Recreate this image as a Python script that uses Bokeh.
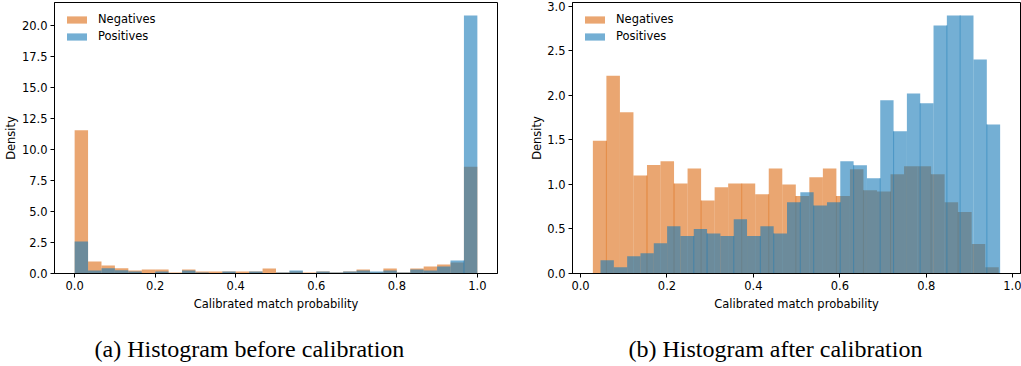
import numpy as np
from bokeh.plotting import figure
from bokeh.models import (ColumnDataSource, FixedTicker, PrintfTickFormatter,
                          Range1d, Legend, LegendItem, Title)
from bokeh.core.properties import value
from bokeh.layouts import row, column
from bokeh.embed import file_html
from bokeh.resources import INLINE

try:
    from bokeh.models import GlobalInlineStyleSheet
except Exception:
    GlobalInlineStyleSheet = None

# ---------------- data ----------------
# (a) before calibration: 30 equal bins on [0, 1]
before_range = (0.0, 1.0)
before_negatives = [11.55, 0.96, 0.64, 0.42, 0.24, 0.32, 0.32, 0.08, 0.32, 0.16,
                    0.16, 0.16, 0.16, 0.16, 0.40, 0.08, 0.16, 0.08, 0.16, 0.08,
                    0.16, 0.32, 0.08, 0.40, 0.08, 0.40, 0.56, 0.72, 0.88, 8.60]
before_positives = [2.57, 0.24, 0.42, 0.26, 0.16, 0.02, 0.16, 0.02, 0.24, 0.08,
                    0.02, 0.16, 0.02, 0.16, 0.02, 0.08, 0.24, 0.02, 0.16, 0.08,
                    0.16, 0.24, 0.16, 0.24, 0.08, 0.32, 0.24, 0.56, 1.04, 20.80]

# (b) after calibration: 30 equal bins over each class's own range
after_neg_range = (0.0285, 0.9677)
after_pos_range = (0.0462, 0.9709)
after_negatives = [1.49, 2.22, 1.81, 1.10, 1.22, 1.26, 1.01, 1.18, 0.82, 0.97,
                   1.01, 1.01, 0.89, 1.18, 1.00, 0.87, 1.08, 1.18, 0.87, 1.17,
                   0.935, 0.92, 1.115, 1.205, 1.205, 1.115, 0.80, 0.69, 0.33, 0.07]
after_positives = [0.15, 0.07, 0.195, 0.228, 0.34, 0.53, 0.42, 0.50, 0.45, 0.42,
                   0.61, 0.42, 0.53, 0.45, 0.80, 0.913, 0.763, 0.80, 1.26, 1.216,
                   1.07, 1.945, 1.597, 2.023, 1.911, 2.787, 2.899, 2.899, 2.405, 1.675]

x_ticks = [0.0, 0.2, 0.4, 0.6, 0.8, 1.0]
y_ticks_a = [0.0, 2.5, 5.0, 7.5, 10.0, 12.5, 15.0, 17.5, 20.0]
y_ticks_b = [0.0, 0.5, 1.0, 1.5, 2.0, 2.5, 3.0]
series_labels = ["Negatives", "Positives"]
captions = ["(a) Histogram before calibration", "(b) Histogram after calibration"]
x_label = "Calibrated match probability"
y_label = "Density"

# shared bin edges that show a thin darker seam in the original rendering
seams_a_neg = []
seams_a_pos = [29]
seams_b_neg = [1, 4, 6, 8, 11, 13, 15, 18, 20, 22, 25, 27]
seams_b_pos = [7, 8, 10, 12, 13, 15, 16, 18, 19, 21, 22, 24, 26, 27, 29]

# ---------------- style / layout ----------------
NEG_COLOR = "#dc6b12"
POS_COLOR = "#177ab7"
ALPHA = 0.6
FONT = "DejaVu Sans"
FS = "11.5px"
CHART_H = 322
CAP_H = 44


def hist_source(vals, rng):
    edges = np.linspace(rng[0], rng[1], len(vals) + 1)
    return ColumnDataSource(dict(left=edges[:-1], right=edges[1:],
                                 top=list(vals), bottom=[0.0] * len(vals)))


def seam_source(vals, rng, seams):
    edges = np.linspace(rng[0], rng[1], len(vals) + 1)
    xs = [edges[k] for k in seams]
    ys = [min(vals[k - 1], vals[k]) for k in seams]
    return ColumnDataSource(dict(x=xs, y0=[0.0] * len(xs), y1=ys))


def make_chart(neg, neg_rng, pos, pos_rng, yticks, width, border_right,
               seams_neg, seams_pos):
    lo = min(neg_rng[0], pos_rng[0])
    hi = max(neg_rng[1], pos_rng[1])
    span = hi - lo
    ymax = max(max(neg), max(pos)) * 1.05
    p = figure(width=width, height=CHART_H, output_backend="svg", toolbar_location=None,
               x_range=Range1d(lo - 0.05 * span, hi + 0.05 * span),
               y_range=Range1d(0, ymax),
               min_border_left=53, min_border_right=border_right,
               min_border_top=2, min_border_bottom=CHART_H - 2 - 271)
    p.grid.visible = False
    p.outline_line_color = "black"
    p.outline_line_width = 1
    p.background_fill_color = "white"
    p.border_fill_color = "white"

    rn = p.quad(left="left", right="right", top="top", bottom="bottom",
                source=hist_source(neg, neg_rng), fill_color=NEG_COLOR,
                fill_alpha=ALPHA, line_color=None)
    if seams_neg:
        p.segment(x0="x", x1="x", y0="y0", y1="y1",
                  source=seam_source(neg, neg_rng, seams_neg),
                  line_color=NEG_COLOR, line_alpha=0.55, line_width=1)
    rp = p.quad(left="left", right="right", top="top", bottom="bottom",
                source=hist_source(pos, pos_rng), fill_color=POS_COLOR,
                fill_alpha=ALPHA, line_color=None)
    if seams_pos:
        p.segment(x0="x", x1="x", y0="y0", y1="y1",
                  source=seam_source(pos, pos_rng, seams_pos),
                  line_color=POS_COLOR, line_alpha=0.55, line_width=1)

    for ax, ticks in ((p.xaxis[0], x_ticks), (p.yaxis[0], yticks)):
        ax.ticker = FixedTicker(ticks=ticks)
        ax.formatter = PrintfTickFormatter(format="%.1f")
        ax.minor_tick_line_color = None
        ax.major_tick_in = 0
        ax.major_tick_out = 4
        ax.axis_line_color = "black"
        ax.major_tick_line_color = "black"
        ax.major_label_text_font = FONT
        ax.major_label_text_font_size = FS
        ax.major_label_text_color = "black"
        ax.axis_label_text_font = FONT
        ax.axis_label_text_font_size = FS
        ax.axis_label_text_font_style = "normal"
        ax.axis_label_text_color = "black"
    p.xaxis.axis_label = x_label
    p.xaxis.major_label_standoff = 3
    p.xaxis.axis_label_standoff = 4
    p.yaxis.major_label_standoff = 3

    p.add_layout(Title(text=y_label, align="center", text_font=FONT,
                       text_font_size=FS, text_font_style="normal",
                       text_color="black", standoff=2), "left")

    legend = Legend(items=[LegendItem(label=series_labels[0], renderers=[rn]),
                           LegendItem(label=series_labels[1], renderers=[rp])],
                    location="top_left", border_line_alpha=0,
                    background_fill_alpha=0, label_text_font=FONT,
                    label_text_font_size=FS, label_text_color="black",
                    glyph_width=25, glyph_height=9, label_height=9,
                    label_standoff=9, spacing=3, padding=0, margin=10)
    p.add_layout(legend)
    return p


def make_caption(text, width, text_x):
    c = figure(width=width, height=CAP_H, output_backend="svg", toolbar_location=None,
               x_range=Range1d(0, width), y_range=Range1d(0, CAP_H),
               x_axis_type=None, y_axis_type=None, min_border=0)
    c.grid.visible = False
    c.outline_line_color = None
    c.text(x=[text_x], y=[CAP_H - 26], text=[text], text_align="left",
           text_baseline="middle", text_font=value("Liberation Serif"),
           text_font_size=value("24px"), text_color="black")
    return c


W1, W2 = 519, 502
p1 = make_chart(before_negatives, before_range, before_positives, before_range,
                y_ticks_a, W1, 22, seams_a_neg, seams_a_pos)
p2 = make_chart(after_negatives, after_neg_range, after_positives, after_pos_range,
                y_ticks_b, W2, 1, seams_b_neg, seams_b_pos)
c1 = make_caption(captions[0], W1, 94)
c2 = make_caption(captions[1], W2, 628 - W1)

kw = {}
if GlobalInlineStyleSheet is not None:
    kw["stylesheets"] = [GlobalInlineStyleSheet(
        css="html, body { margin: 0 !important; padding: 0; overflow: hidden; }")]
layout = column(row(p1, p2, spacing=0), row(c1, c2, spacing=0), spacing=0, **kw)

open("out.html", "w").write(file_html(layout, INLINE))
